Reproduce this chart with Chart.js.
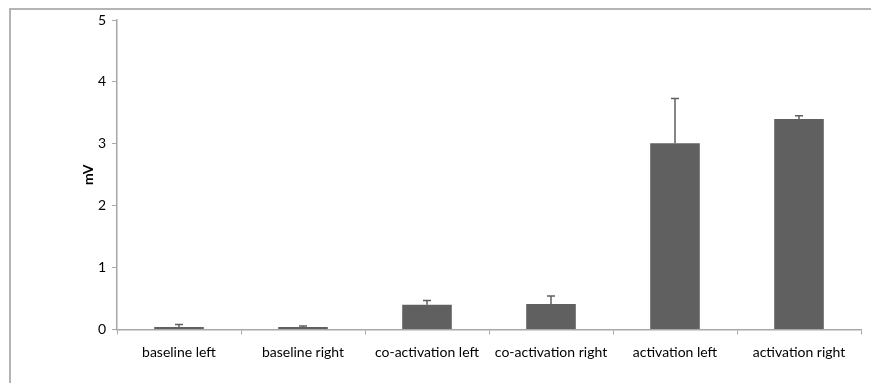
<!DOCTYPE html>
<html>
<head>
<meta charset="utf-8">
<script src="https://cdn.jsdelivr.net/npm/chart.js@4.4.0/dist/chart.umd.min.js"></script>
<style>
    html, body { margin: 0; padding: 0; background: #fff; }
    #wrap { position: relative; width: 871px; height: 383px; overflow: hidden; }
    #frame { position: absolute; left: 9px; top: 8px; width: 900px; height: 400px;
             border-top: 2px solid #b4b4b4; border-left: 2px solid #b4b4b4; box-sizing: border-box; }
    canvas { position: absolute; left: 0; top: 0; }
</style>
</head>
<body>
<div id="wrap">
    <div id="frame"></div>
    <canvas id="chart" width="871" height="383"></canvas>
</div>
<script>
const categories = ["baseline left", "baseline right", "co-activation left", "co-activation right", "activation left", "activation right"];
const values = [0.04, 0.04, 0.40, 0.41, 3.01, 3.40];
const errors = [0.04, 0.015, 0.07, 0.13, 0.72, 0.055];
const yTicks = [0, 1, 2, 3, 4, 5];

// upper error bars, drawn from the bar scales
const errorBars = {
    id: "errorBars",
    afterDatasetsDraw(chart) {
        const ctx = chart.ctx;
        const x = chart.scales.x;
        const y = chart.scales.y;
        ctx.save();
        ctx.strokeStyle = "#5f5f5f";
        ctx.lineWidth = 1.5;
        values.forEach((v, i) => {
            const cx = x.getPixelForValue(i);
            const y0 = y.getPixelForValue(v);
            const y1 = y.getPixelForValue(v + errors[i]);
            ctx.beginPath();
            ctx.moveTo(cx, y0);
            ctx.lineTo(cx, y1);
            ctx.moveTo(cx - 4, y1);
            ctx.lineTo(cx + 4, y1);
            ctx.stroke();
        });
        ctx.restore();
    }
};

new Chart(document.getElementById("chart").getContext("2d"), {
    type: "bar",
    data: {
        labels: categories,
        datasets: [{
            data: values,
            backgroundColor: "#606060",
            borderWidth: 0,
            categoryPercentage: 1.0,
            barPercentage: 0.4
        }]
    },
    options: {
        responsive: false,
        animation: false,
        events: [],
        layout: { padding: { top: 20, right: 10, left: 0, bottom: 0 } },
        plugins: { legend: { display: false }, tooltip: { enabled: false } },
        scales: {
            x: {
                grid: { offset: true, drawOnChartArea: false, color: "#a8a8a8", tickLength: 5 },
                border: { color: "#a8a8a8", width: 1.5 },
                ticks: { color: "#000", font: { family: "Lato", size: 14 }, padding: 10, maxRotation: 0 },
                afterFit(s) { s.height = 53.5; }
            },
            y: {
                min: 0,
                max: 5,
                afterBuildTicks(s) { s.ticks = yTicks.map(v => ({ value: v })); },
                grid: { drawOnChartArea: false, color: "#a8a8a8", tickLength: 5 },
                border: { color: "#a8a8a8", width: 1.5 },
                ticks: { color: "#000", font: { family: "Lato", size: 14 }, padding: 6 },
                title: { display: true, text: "mV", color: "#000", font: { family: "Lato", size: 14, weight: "bold" }, padding: { top: 80, bottom: 0 } },
                afterFit(s) { s.width = 117; }
            }
        }
    },
    plugins: [errorBars]
});
</script>
</body>
</html>
